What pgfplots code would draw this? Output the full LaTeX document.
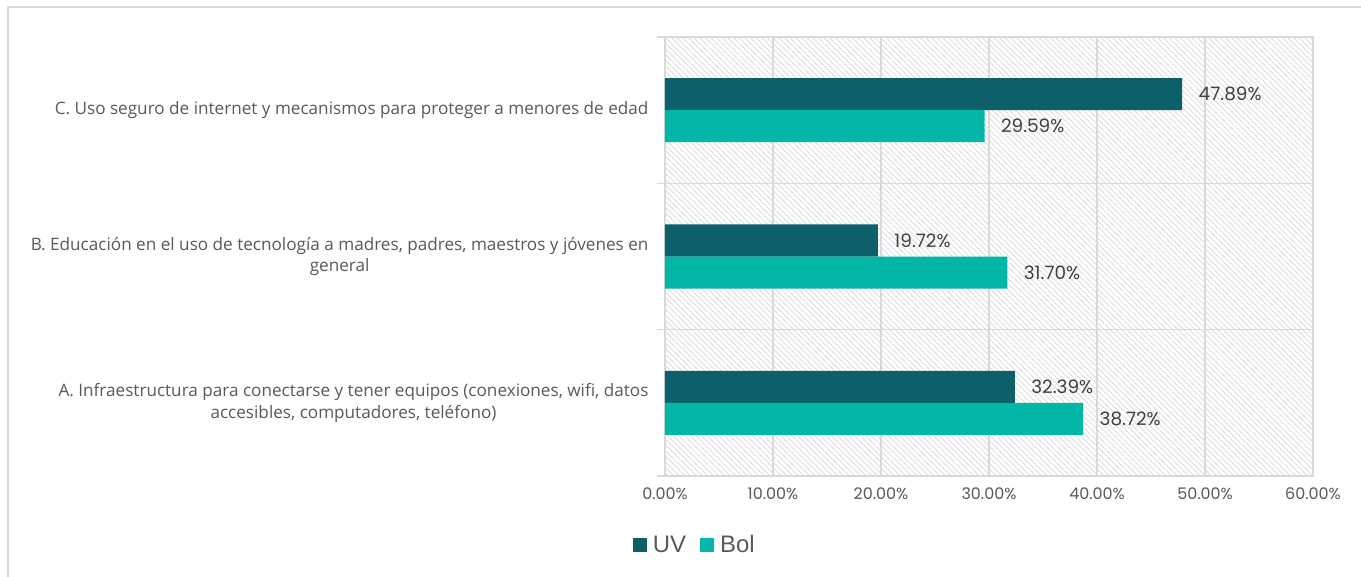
\documentclass[border=0pt]{standalone}
\usepackage{fontspec}
\setmainfont{Poppins}
\newfontfamily\catfont{Open Sans}
\newfontfamily\legfont{Liberation Sans}
\usepackage{pgfplots}
\pgfplotsset{compat=1.18}
\usetikzlibrary{patterns.meta}
\definecolor{uv}{HTML}{0D5F6A}
\definecolor{bol}{HTML}{02B6A8}
\definecolor{txt}{HTML}{595959}
\definecolor{lbl}{HTML}{404040}
\definecolor{grd}{HTML}{D9D9D9}
\definecolor{hatch}{HTML}{D6D6D6}
\begin{document}
\begin{tikzpicture}
\useasboundingbox (0bp,0bp) rectangle (1361bp,-577bp);
\draw[grd, line width=2bp] (8bp,-600bp) -- (8bp,-7bp) -- (1380bp,-7bp);
\begin{axis}[
  at={(665bp,-476bp)}, anchor=south west,
  scale only axis, width=648bp, height=439bp,
  xbar, bar width=0.219,
  xmin=0, xmax=60, ymin=-0.5, ymax=2.5,
  xtick={0,10,...,60},
  xticklabel={\pgfmathprintnumber[fixed,fixed zerofill,precision=2]{\tick}\%},
  xticklabel style={font=\fontsize{16}{19}\selectfont, text=txt, yshift=-8bp},
  /pgf/number format/assume math mode=true,
  ytick={0,1,2}, ytick pos=left,
  yticklabels={{A. Infraestructura para conectarse y tener equipos (conexiones, wifi, datos\\accesibles, computadores, teléfono)},
               {B. Educación en el uso de tecnología a madres, padres, maestros y jóvenes en\\general},
               {C. Uso seguro de internet y mecanismos para proteger a menores de edad}},
  yticklabel style={align=center, font=\catfont\fontsize{17.2}{22}\selectfont, text=txt, xshift=-13bp},
  minor ytick={-0.5,0.5,1.5,2.5},
  xmajorgrids, yminorgrids,
  major grid style={grd, line width=1.5bp},
  minor grid style={grd, line width=1.5bp},
  major tick length=0pt, minor tick length=8bp, tick align=outside,
  minor tick style={grd, line width=1.5bp},
  axis line style={grd, line width=1.5bp},
  axis background/.style={pattern={Lines[angle=-45, distance=4bp, line width=0.7bp]}, pattern color=hatch},
  point meta=x,
  nodes near coords={\pgfmathprintnumber[fixed,fixed zerofill,precision=2]{\pgfplotspointmeta}\%},
  nodes near coords style={font=\fontsize{18.5}{21}\selectfont, text=lbl, anchor=west, xshift=13bp},
  legend style={at={(0.046,-0.157)}, anchor=center, legend columns=2, draw=none, fill=none,
    font=\legfont\fontsize{24}{27}\selectfont, text=txt,
    /tikz/every even column/.append style={column sep=12bp}},
]
\addplot[fill=uv, draw=none, bar shift=0.1095,
  legend image code/.code={\fill[uv] (0bp,-7bp) rectangle (14bp,7bp); \path (18bp,0bp);}]
  coordinates {(32.39,0) (19.72,1) (47.89,2)};
\addplot[fill=bol, draw=none, bar shift=-0.1095,
  legend image code/.code={\fill[bol] (0bp,-7bp) rectangle (14bp,7bp); \path (18bp,0bp);}]
  coordinates {(38.72,0) (31.70,1) (29.59,2)};
\legend{UV, Bol}
\end{axis}
\end{tikzpicture}
\end{document}
